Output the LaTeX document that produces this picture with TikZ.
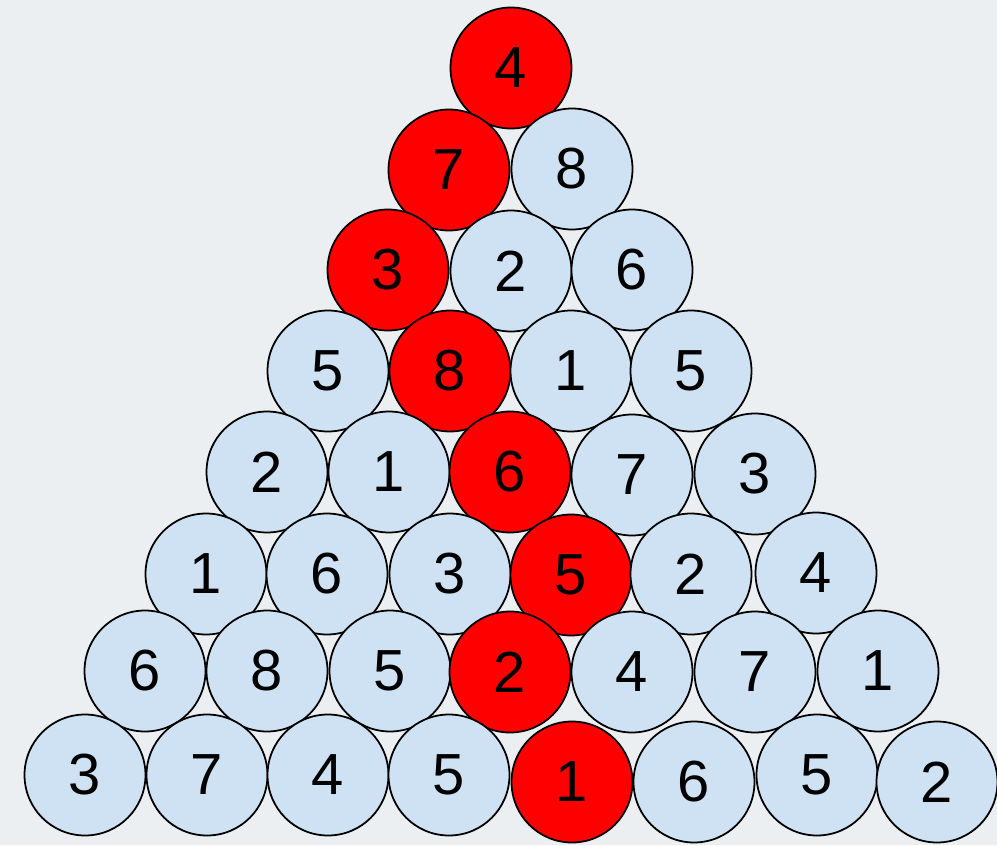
\documentclass[tikz,border=0pt]{standalone}
\usepackage{fontspec}
\setmainfont{Liberation Sans}
\definecolor{bgcol}{HTML}{ECEFF1}
\definecolor{ballblue}{HTML}{CFE2F3}
\definecolor{ballred}{HTML}{FF0000}

\begin{document}
\begin{tikzpicture}[x=0.02cm, y=-0.02cm,
    ball/.style={circle, draw=black, line width=1pt, minimum size=2.42cm,
      inner sep=0pt, fill=ballblue, font=\fontsize{33}{33}\selectfont},
    hit/.style={ball, fill=ballred}]
    \fill[bgcol] (0,0) rectangle (997,845);
    \useasboundingbox (0,0) rectangle (997,845);
    % row 1
    \node[hit]  (n11) at (511,68)  {4};
    % row 2
    \node[hit]  (n21) at (449,170) {7};
    \node[ball] (n22) at (572,169) {8};
    % row 3
    \node[hit]  (n31) at (388,270) {3};
    \node[ball] (n32) at (511,271) {2};
    \node[ball] (n33) at (632,270) {6};
    % row 4
    \node[ball] (n41) at (328,371) {5};
    \node[hit]  (n42) at (450,371) {8};
    \node[ball] (n43) at (571,371) {1};
    \node[ball] (n44) at (691,371) {5};
    % row 5
    \node[ball] (n51) at (267,472) {2};
    \node[ball] (n52) at (389,472) {1};
    \node[hit]  (n53) at (510,472) {6};
    \node[ball] (n54) at (632,475) {7};
    \node[ball] (n55) at (755,474) {3};
    % row 6
    \node[ball] (n61) at (206,574) {1};
    \node[ball] (n62) at (327,574) {6};
    \node[ball] (n63) at (450,574) {3};
    \node[hit]  (n64) at (571,575) {5};
    \node[ball] (n65) at (691,574) {2};
    \node[ball] (n66) at (816,573) {4};
    % row 7
    \node[ball] (n71) at (145,671) {6};
    \node[ball] (n72) at (267,671) {8};
    \node[ball] (n73) at (390,671) {5};
    \node[hit]  (n74) at (510,672) {2};
    \node[ball] (n75) at (632,672) {4};
    \node[ball] (n76) at (755,672) {7};
    \node[ball] (n77) at (878,671) {1};
    % row 8
    \node[ball] (n81) at (85,775)  {3};
    \node[ball] (n82) at (207,775) {7};
    \node[ball] (n83) at (328,775) {4};
    \node[ball] (n84) at (449,775) {5};
    \node[hit]  (n85) at (572,782) {1};
    \node[ball] (n86) at (694,782) {6};
    \node[ball] (n87) at (817,775) {5};
    \node[ball] (n88) at (937,782) {2};
\end{tikzpicture}
\end{document}
